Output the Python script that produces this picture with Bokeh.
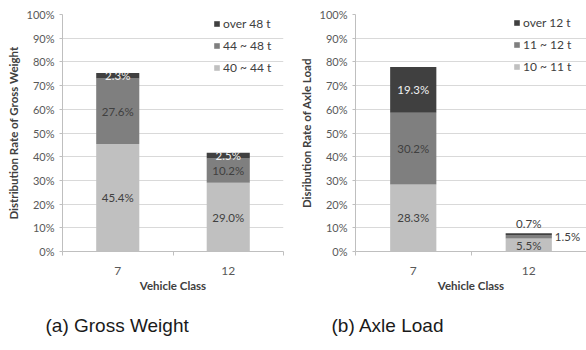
from bokeh.plotting import figure
from bokeh.layouts import row
from bokeh.models import (ColumnDataSource, FixedTicker, PrintfTickFormatter,
                          Legend, LegendItem, Title, Range1d)
from bokeh.core.properties import value
from bokeh.embed import file_html
from bokeh.resources import INLINE

# Vehicle classes on the x axis
classes = ["7", "12"]

# (a) Gross weight distribution (%), stacked bottom -> top
gw_names = ["40 ~ 44 t", "44 ~ 48 t", "over 48 t"]
gw_40_44 = [45.4, 29.0]
gw_44_48 = [27.6, 10.2]
gw_over48 = [2.3, 2.5]

# (b) Axle load distribution (%), stacked bottom -> top
al_names = ["10 ~ 11 t", "11 ~ 12 t", "over 12 t"]
al_10_11 = [28.3, 5.5]
al_11_12 = [30.2, 1.5]
al_over12 = [19.3, 0.7]

y_ticks = [0, 10, 20, 30, 40, 50, 60, 70, 80, 90, 100]

COLORS = ["#c0c0c0", "#7f7f7f", "#404040"]
LABEL_COLORS = ["#404040", "#404040", "#f2f2f2"]
FONT = "Lato"
GRID = "#d9d9d9"
AXIS = "#bfbfbf"
TICK_TXT = "#595959"
VAL_SIZE = "11.5px"


def make_panel(series, names, y_title, caption, caption_offset, bar_w,
               legend_xy, frame_w, right_border, outside_labels=False):
    p = figure(width=62 + frame_w + right_border, height=350,
               output_backend="svg", toolbar_location=None,
               x_range=Range1d(0, len(classes)), y_range=Range1d(0, 100),
               min_border_left=62, min_border_right=right_border,
               min_border_top=14, min_border_bottom=99)
    p.outline_line_color = None
    p.background_fill_color = "white"
    p.border_fill_color = "white"

    xs = [i + 0.5 for i in range(len(classes))]
    bottoms = [0.0] * len(classes)
    renderers = []
    for k, (vals, name) in enumerate(zip(series, names)):
        tops = [b + v for b, v in zip(bottoms, vals)]
        src = ColumnDataSource(dict(x=xs, bottom=bottoms, top=tops,
                                    txt=[f"{v:.1f}%" for v in vals]))
        r = p.vbar(x="x", bottom="bottom", top="top", width=bar_w, source=src,
                   fill_color=COLORS[k], line_color=COLORS[k], line_width=0)
        renderers.append(r)

        # value labels: centred in the segment, except tiny ones on the
        # second axle-load bar, which go outside the bar
        for i in range(len(classes)):
            mid = (bottoms[i] + tops[i]) / 2
            txt = [src.data["txt"][i]]
            common = dict(text=txt, text_font=value(FONT),
                          text_font_size=VAL_SIZE)
            if outside_labels and i == 1 and k == 1:
                p.text(x=[xs[i] + bar_w / 2], y=[mid], text_color="#404040",
                       text_align="left", text_baseline="middle", x_offset=3,
                       **common)
            elif outside_labels and i == 1 and k == 2:
                p.text(x=[xs[i]], y=[tops[i]], text_color="#404040",
                       text_align="center", text_baseline="bottom",
                       y_offset=-3, **common)
            elif outside_labels and i == 1 and k == 0:
                p.text(x=[xs[i]], y=[mid], text_color="#404040",
                       text_align="center", text_baseline="middle",
                       y_offset=1, **common)
            else:
                p.text(x=[xs[i]], y=[mid], text_color=LABEL_COLORS[k],
                       text_align="center", text_baseline="middle", **common)
        bottoms = tops

    # legend, darkest series listed first
    items = [LegendItem(label=names[k], renderers=[renderers[k]])
             for k in reversed(range(len(names)))]
    leg = Legend(items=items, location=legend_xy, orientation="vertical",
                 glyph_width=7, glyph_height=7, label_height=14, spacing=7,
                 padding=0, margin=0, label_standoff=3,
                 label_text_font=FONT, label_text_font_size="12px",
                 label_text_color="#404040", border_line_color=None,
                 background_fill_alpha=0)
    p.add_layout(leg)

    # y axis
    yax = p.yaxis[0]
    yax.ticker = FixedTicker(ticks=y_ticks)
    yax.formatter = PrintfTickFormatter(format="%d%%")
    yax.axis_line_color = AXIS
    yax.major_tick_line_color = AXIS
    yax.major_tick_out = 3
    yax.major_tick_in = 0
    yax.minor_tick_line_color = None
    yax.major_label_standoff = 5
    yax.major_label_text_font = FONT
    yax.major_label_text_font_size = "11px"
    yax.major_label_text_color = TICK_TXT
    yax.axis_label = y_title
    yax.axis_label_text_font = FONT
    yax.axis_label_text_font_style = "bold"
    yax.axis_label_text_font_size = "11.5px"
    yax.axis_label_text_color = "#404040"
    yax.axis_label_standoff = 4

    # x axis: labels at bar centres, tick marks between categories
    xax = p.xaxis[0]
    xax.ticker = FixedTicker(ticks=xs,
                             minor_ticks=list(range(len(classes) + 1)))
    xax.major_label_overrides = {x: c for x, c in zip(xs, classes)}
    xax.axis_line_color = AXIS
    xax.major_tick_line_color = None
    xax.major_tick_out = 0
    xax.major_tick_in = 0
    xax.minor_tick_line_color = AXIS
    xax.minor_tick_out = 4
    xax.minor_tick_in = 0
    xax.major_label_standoff = 11
    xax.major_label_text_font = FONT
    xax.major_label_text_font_size = "12px"
    xax.major_label_text_color = TICK_TXT
    xax.axis_label = "Vehicle Class"
    xax.axis_label_text_font = FONT
    xax.axis_label_text_font_style = "bold"
    xax.axis_label_text_font_size = "11.5px"
    xax.axis_label_text_color = "#404040"
    xax.axis_label_standoff = 1

    p.xgrid.grid_line_color = None
    p.ygrid.ticker = FixedTicker(ticks=y_ticks)
    p.ygrid.grid_line_color = GRID

    # blank gap between the axis and the panel caption
    p.add_layout(Title(text=" ", text_font_size="6px", standoff=0), "below")
    cap = Title(text=caption, align="left", offset=caption_offset,
                standoff=20, text_font="Liberation Sans",
                text_font_size="19px", text_font_style="normal",
                text_color="#1a1a1a")
    p.add_layout(cap, "below")
    return p


left = make_panel([gw_40_44, gw_44_48, gw_over48], gw_names,
                  "Distribution Rate of Gross Weight", "(a) Gross Weight",
                  -17, 0.39, (151, 176), 221, 10)
right = make_panel([al_10_11, al_11_12, al_over12], al_names,
                   "Disribution Rate of Axle Load", "(b) Axle Load",
                   -24, 0.40, (158, 177), 231, 0, outside_labels=True)

layout = row(left, right, spacing=0)
open("out.html", "w").write(file_html(layout, INLINE))
